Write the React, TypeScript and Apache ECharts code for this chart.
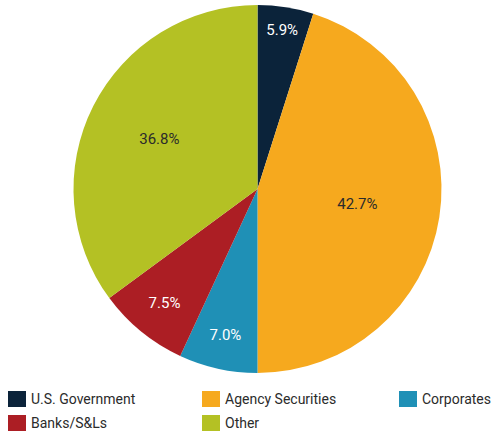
import React, { useEffect, useRef } from "react";
import * as echarts from "echarts";

const categories = ["U.S. Government", "Agency Securities", "Corporates", "Banks/S&Ls", "Other"];
// percentages printed on the slices
const shares = [5.9, 42.7, 7.0, 7.5, 36.8];
// slice sizes as drawn in the picture (measured angles, %)
const sliceSizes = [4.9, 45.1, 6.9, 8.0, 35.1];
const colors = ["#0b233a", "#f6a91e", "#1f90b6", "#ac1e24", "#b4c124"];
const labelColors = ["#ffffff", "#2b2b2b", "#ffffff", "#ffffff", "#2b2b2b"];

const FONT = "Roboto, 'Liberation Sans Narrow', sans-serif";
const CX = 257.5;
const CY = 189;
const R = 184;
// label distance from centre per slice (layout only)
const labelRadii = [158, 98, 146, 144, 107];

export default function App() {
  const ref = useRef<HTMLDivElement>(null);
  useEffect(() => {
    if (!ref.current) return;
    const chart = echarts.init(ref.current, null, { renderer: "svg" });
    const baseData = categories.map((name, i) => ({
      name,
      value: sliceSizes[i],
      itemStyle: { color: colors[i] },
    }));
    const labelSeries = categories.map((_, idx) => ({
      type: "pie",
      silent: true,
      center: [CX, CY],
      radius: [labelRadii[idx] - 4, labelRadii[idx] + 4],
      startAngle: 90,
      clockwise: true,
      z: 5,
      emphasis: { disabled: true },
      labelLine: { show: false },
      data: categories.map((name, i) => ({
        name,
        value: sliceSizes[i],
        itemStyle: { color: "rgba(0,0,0,0)" },
        label: {
          show: i === idx,
          position: "inside",
          formatter: () => shares[i].toFixed(1) + "%",
          color: labelColors[i],
          fontFamily: FONT,
          fontSize: 15,
        },
      })),
    }));
    const legendBase = {
      orient: "vertical",
      itemWidth: 18,
      itemHeight: 16,
      itemGap: 8,
      icon: "rect",
      selectedMode: false,
      padding: 0,
      textStyle: { fontFamily: FONT, fontSize: 14, color: "#2b2b2b" },
    };
    const legItem = (i: number) => ({ name: categories[i], itemStyle: { color: colors[i] } });
    chart.setOption({
      animation: false,
      backgroundColor: "#ffffff",
      legend: [
        { ...legendBase, left: 8, top: 391, data: [legItem(0), legItem(3)] },
        { ...legendBase, left: 202, top: 391, data: [legItem(1), legItem(4)] },
        { ...legendBase, left: 399, top: 391, data: [legItem(2)] },
      ],
      series: [
        {
          type: "pie",
          center: [CX, CY],
          radius: [0, R],
          startAngle: 90,
          clockwise: true,
          label: { show: false },
          labelLine: { show: false },
          emphasis: { disabled: true },
          itemStyle: { borderWidth: 0 },
          data: baseData,
        },
        ...labelSeries,
      ],
    });
    return () => chart.dispose();
  }, []);
  return (
    <div
      ref={ref}
      style={{ position: "fixed", left: 0, top: 0, width: 491, height: 437 }}
    />
  );
}
